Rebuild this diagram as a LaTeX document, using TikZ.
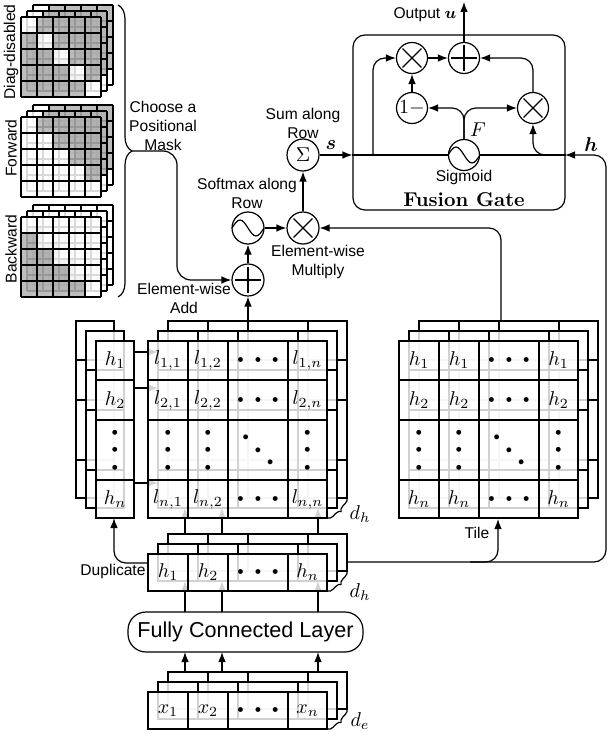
\documentclass[tikz,border=0pt]{standalone}
\usepackage{fontspec}
\setsansfont{Liberation Sans}
\usepackage{amsmath}
\usepackage{bm}
\usetikzlibrary{arrows.meta,decorations.pathreplacing}

% dots for the matrix cells
\newcommand{\hdts}{${\scriptscriptstyle\bullet}\kern5pt{\scriptscriptstyle\bullet}\kern5pt{\scriptscriptstyle\bullet}$}
\newcommand{\vdts}{\rotatebox{90}{\hdts}}
\newcommand{\ddts}{\rotatebox{-45}{\hdts}}

% one layer of a tensor: x0 y0 x1 y1 {inner x} {inner y}
\newcommand{\gridlayer}[6]{%
  \fill[white, fill opacity=0.82] (#1,#2) rectangle (#3,#4);
  \draw (#1,#2) rectangle (#3,#4);
  \foreach \gx in {#5} {\draw (\gx,#2) -- (\gx,#4);}
  \foreach \gy in {#6} {\draw (#1,\gy) -- (#3,\gy);}
}

% one 5x5 mask layer: x0 y0 condition
\newcommand{\masklayer}[3]{%
  \foreach \i in {1,...,5} {
    \foreach \j in {1,...,5} {
      \pgfmathtruncatemacro{\mk}{(#3)*30}
      \fill[black!\mk, fill opacity=0.85] ({#1+16*(\j-1)},{#2+16*(\i-1)}) rectangle ++(16,16);
    }
  }
  \foreach \k in {0,...,5} {
    \draw[line width=0.7pt] ({#1+16*\k},#2) -- ++(0,80);
    \draw[line width=0.7pt] (#1,{#2+16*\k}) -- ++(80,0);
  }
}
\newcommand{\maskstack}[3]{%
  \foreach \m in {2,1,0} {
    \begin{scope}[shift={(6*\m,-6*\m)}]
      \masklayer{#1}{#2}{#3}
    \end{scope}
  }
}

\tikzset{
  >={Latex[length=5pt,width=3.8pt]},
  lbl/.style={font=\sffamily\fontsize{7.8}{9.5}\selectfont, align=center, inner sep=0.5pt},
  op/.style={circle, draw, fill=white, minimum size=16pt, inner sep=0pt},
  gop/.style={op, minimum size=15.5pt},
  plusop/.style={path picture={
    \draw ([yshift=-6.5pt]path picture bounding box.center) -- ([yshift=6.5pt]path picture bounding box.center);
    \draw ([xshift=-6.5pt]path picture bounding box.center) -- ([xshift=6.5pt]path picture bounding box.center);}},
  timesop/.style={path picture={
    \draw ([shift={(-4.7pt,-4.7pt)}]path picture bounding box.center) -- ([shift={(4.7pt,4.7pt)}]path picture bounding box.center);
    \draw ([shift={(-4.7pt,4.7pt)}]path picture bounding box.center) -- ([shift={(4.7pt,-4.7pt)}]path picture bounding box.center);}},
  waveop/.style={path picture={
    \draw ([xshift=-8pt]path picture bounding box.center) sin ++(4pt,4pt) cos ++(4pt,-4pt) sin ++(4pt,-4pt) cos ++(4pt,4pt);}},
  flow/.style={->, rounded corners=6pt},
  brc/.style={decorate, decoration={brace, amplitude=2.5pt}},
  cell/.style={inner sep=1pt},
}

\begin{document}
\begin{tikzpicture}[x=0.5pt, y=-0.5pt, line width=0.6pt]
\useasboundingbox (0,0) rectangle (608,738);

% positional masks
\maskstack{21}{17}{notequal(\j,\i)}
\maskstack{21}{117}{greater(\j,\i)}
\maskstack{21}{217}{less(\j,\i)}
\node[lbl, rotate=90] (diaglbl) at (11,52) {Diag-disabled};
\node[lbl, rotate=90] (fwdlbl) at (11,148) {Forward};
\node[lbl, rotate=90] (bwdlbl) at (11,249) {Backward};
\draw[decorate, decoration={brace, amplitude=7pt}] (118,5) -- (118,297);
\coordinate (masktip) at (132,151);
\node[lbl] (choose) at (163,126) {Choose a\\Positional\\Mask};

% h column
\foreach \m in {2,1} {
  \begin{scope}[shift={(-10*\m,-10*\m)}]
    \gridlayer{96}{341}{134}{518}{96}{380,420,480}
  \end{scope}
}
\gridlayer{96}{341}{134}{518}{96}{380,420,480}
\node (hc1) at (115,360.5) {$h_1$};
\node (hc2) at (115,400) {$h_2$};
\node[cell] (hcd) at (115,450) {\vdts};
\node (hcn) at (115,499) {$h_n$};

% score matrix l
\foreach \m in {2,1} {
  \begin{scope}[shift={(10*\m,-10*\m)}]
    \gridlayer{148}{341}{327}{518}{188,228,288}{380,420,480}
  \end{scope}
}
\foreach \cy in {352,388,483} {
  \draw[->] (134,\cy) -- (158,\cy);
}
\foreach \cx in {185,222,318} {
  \draw[->] (\cx,534) -- (\cx,508);
}
\gridlayer{148}{341}{327}{518}{188,228,288}{380,420,480}
\node (l11) at (168,360.5) {$l_{1,1}$};
\node (l12) at (208,360.5) {$l_{1,2}$};
\node[cell] (l1d) at (258,360.5) {\hdts};
\node (l1n) at (307.5,360.5) {$l_{1,n}$};
\node (l21) at (168,400) {$l_{2,1}$};
\node (l22) at (208,400) {$l_{2,2}$};
\node[cell] (l2d) at (258,400) {\hdts};
\node (l2n) at (307.5,400) {$l_{2,n}$};
\node[cell] (ld1) at (168,450) {\vdts};
\node[cell] (ld2) at (208,450) {\vdts};
\node[cell] (ldd) at (258,450) {\ddts};
\node[cell] (ldn) at (307.5,450) {\vdts};
\node (ln1) at (168,499) {$l_{n,1}$};
\node (ln2) at (208,499) {$l_{n,2}$};
\node[cell] (lnd) at (258,499) {\hdts};
\node (lnn) at (307.5,499) {$l_{n,n}$};
\draw[brc] (347,498) -- (328,518);
\node (dhl) at (360,514) {$d_h$};

% tiled h
\foreach \m in {2,1} {
  \begin{scope}[shift={(10*\m,-10*\m)}]
    \gridlayer{399}{341}{578}{518}{439,479,539}{380,420,480}
  \end{scope}
}
\gridlayer{399}{341}{578}{518}{439,479,539}{380,420,480}
\node (t11) at (419,360.5) {$h_1$};
\node (t12) at (459,360.5) {$h_1$};
\node[cell] (t1d) at (509,360.5) {\hdts};
\node (t1n) at (558.5,360.5) {$h_1$};
\node (t21) at (419,400) {$h_2$};
\node (t22) at (459,400) {$h_2$};
\node[cell] (t2d) at (509,400) {\hdts};
\node (t2n) at (558.5,400) {$h_2$};
\node[cell] (td1) at (419,450) {\vdts};
\node[cell] (td2) at (459,450) {\vdts};
\node[cell] (tdd) at (509,450) {\ddts};
\node[cell] (tdn) at (558.5,450) {\vdts};
\node (tn1) at (419,499) {$h_n$};
\node (tn2) at (459,499) {$h_n$};
\node[cell] (tnd) at (509,499) {\hdts};
\node (tnn) at (558.5,499) {$h_n$};

% hidden states h
\foreach \m in {2,1} {
  \begin{scope}[shift={(10*\m,-10*\m)}]
    \gridlayer{148}{554}{327}{591}{188,228,288}{554}
  \end{scope}
}
\foreach \cx in {185,222,318} {
  \draw[->] (\cx,612) -- (\cx,581);
}
\gridlayer{148}{554}{327}{591}{188,228,288}{554}
\node (hr1) at (168,572.5) {$h_1$};
\node (hr2) at (208,572.5) {$h_2$};
\node[cell] (hrd) at (258,572.5) {\hdts};
\node (hrn) at (307.5,572.5) {$h_n$};
\draw[brc] (347,571) -- (328,591);
\node (dhr) at (360,592) {$d_h$};
\coordinate (hout) at (347,562);

% fully connected layer
\node[draw, rounded corners=9pt, fill=white, minimum width=117.5pt, minimum height=20pt,
  font=\sffamily\fontsize{10.8}{13}\selectfont] (fc) at (245.5,632) {Fully Connected Layer};

% inputs x
\foreach \m in {2,1,0} {
  \begin{scope}[shift={(10*\m,-10*\m)}]
    \gridlayer{148}{692}{327}{729}{188,228,288}{692}
  \end{scope}
}
\node (x1) at (168,710.5) {$x_1$};
\node (x2) at (208,710.5) {$x_2$};
\node[cell] (xd) at (258,710.5) {\hdts};
\node (xn) at (307.5,710.5) {$x_n$};
\foreach \cx in {185,222,318} {
  \draw[->] (\cx,672) -- (\cx,652);
}
\draw[brc] (347,709) -- (328,729);
\node (del) at (360,721) {$d_e$};

% duplicate and tile
\draw[flow] (148,563) -| (114,518);
\node[lbl] (duplbl) at (113,571) {Duplicate};
\draw[flow] (hout) -- (606,562) -- (606,155) -- (565,155);
\draw[flow] (470,562) -| (498,519);
\node[lbl] (tilelbl) at (477,533) {Tile};

% attention operations
\node[op, plusop] (add) at (248,280) {};
\node[op, waveop] (softmax) at (248,228) {};
\node[op, timesop] (mult) at (303,228) {};
\node[op] (sumrow) at (303,155) {$\Sigma$};
\node[lbl] (addlbl) at (184,298) {Element-wise\\Add};
\node[lbl] (smlbl) at (247,193) {Softmax along\\Row};
\node[lbl] (multlbl) at (318,262) {Element-wise\\Multiply};
\node[lbl] (sumlbl) at (303,123) {Sum along\\Row};
\draw[flow, rounded corners=7pt] (masktip) -- (177,151) -- (177,280) -- (add);
\draw[->] (248,321) -- (add);
\draw[->] (add) -- (softmax);
\draw[->] (softmax) -- (mult);
\draw[flow] (501,321) |- (mult);
\draw[->] (mult) -- (sumrow);

% fusion gate
\node[draw, rounded corners=6pt, minimum width=106pt, minimum height=87.5pt] (gate) at (459,122.5) {};
\node[gop, timesop] (gmulA) at (412,58) {};
\node[gop, plusop] (gadd) at (464,58) {};
\node[gop] (gone) at (412,108) {$1-$};
\node[gop, timesop] (gmulB) at (533,108) {};
\node[gop, waveop] (gsig) at (464,155) {};
\draw[->] (sumrow) -- (gate.west |- gsig);
\node (slbl) at (331,145) {$\bm{s}$};
\node (hlbl) at (591,145) {$\bm{h}$};
\draw (gate.west |- gsig) -- (gsig);
\draw (gate.east |- gsig) -- (gsig);
\coordinate (sfork) at (373,155);
\coordinate (hfork) at (548,155);
\draw[flow] (sfork) |- (gmulA);
\draw[flow] (hfork) -| (gmulB);
\draw[flow] (gsig.north) |- (gone);
\draw[flow] (gsig.north) |- (gmulB);
\draw[->] (gone) -- (gmulA);
\draw[->] (gmulA) -- (gadd);
\draw[flow] (gmulB) |- (gadd);
\draw[->] (gadd) -- (464,2);
\node (flbl) at (478,130) {$F$};
\node[lbl] (siglbl) at (464,177) {Sigmoid};
\node[font=\bfseries] (gatelbl) at (464,200) {Fusion Gate};
\node[lbl, anchor=east] (outlbl) at (458,15) {Output $\bm{u}$};

\end{tikzpicture}
\end{document}
